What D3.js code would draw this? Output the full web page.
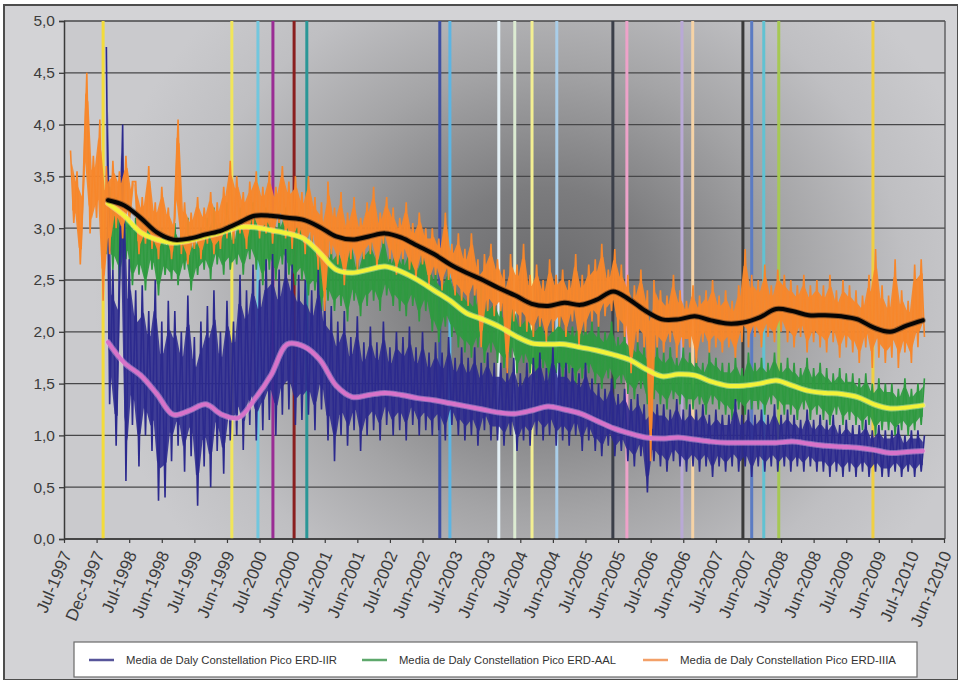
<!DOCTYPE html>
<html>
<head>
<meta charset="utf-8">
<script src="https://cdn.jsdelivr.net/npm/d3@7"></script>
<style>
  body { margin: 0; background: #ffffff; }
  svg { display: block; }
  text { font-family: "Liberation Sans", Arial, Helvetica, sans-serif; }
</style>
</head>
<body>
<svg id="chart" width="958" height="680"></svg>
<script>
// ---- Category labels along the time axis -------------------------------
const xLabels = ["Jul-1997","Dec-1997","Jul-1998","Jun-1998","Jul-1999","Jun-1999",
  "Jul-2000","Jun-2000","Jul-2001","Jun-2001","Jul-2002","Jun-2002","Jul-2003",
  "Jun-2003","Jul-2004","Jun-2004","Jul-2005","Jun-2005","Jul-2006","Jun-2006",
  "Jul-2007","Jun-2007","Jul-2008","Jun-2008","Jul-2009","Jun-2009","Jul-12010","Jun-12010"];

const yTicks = [0, 0.5, 1, 1.5, 2, 2.5, 3, 3.5, 4, 4.5, 5];

// ---- Daily values (time measured in label intervals) ---------------------
const dailyStep = 0.1;
const orangeStart = 0.2;
const stationStart = 1.3;

// Media de Daly Constellation Pico ERD-IIIA
const orangeDaily = [
  3.75,3.05,3.55,2.65,3.45,4.50,2.95,3.70,3.10,4.05,
  2.30,3.60,2.75,3.65,3.00,3.55,2.90,3.70,3.05,3.45,
  3.45,2.75,3.30,2.85,3.60,2.80,3.25,2.70,3.40,2.85,
  3.20,2.70,3.10,4.05,2.75,3.25,2.65,3.15,2.80,3.30,
  2.70,3.20,2.85,3.35,2.75,3.25,2.80,3.40,2.90,3.65,
  2.85,3.50,2.95,3.35,2.80,3.45,3.00,3.55,2.90,3.40,
  2.95,3.55,2.85,3.40,3.05,3.60,2.90,3.45,2.80,3.50,
  2.90,3.35,2.75,3.50,2.85,3.30,2.60,3.25,2.20,3.45,
  2.75,3.20,2.65,3.35,2.45,3.15,2.70,3.30,2.60,3.10,
  2.70,3.25,2.75,3.40,2.60,3.15,2.85,3.30,2.70,3.20,
  2.55,3.10,2.70,3.25,2.60,3.05,2.50,3.15,2.65,3.00,
  2.45,3.00,2.55,2.90,2.40,3.15,2.50,2.85,2.35,2.95,
  2.30,2.80,2.25,2.95,2.35,2.70,1.85,2.75,2.20,2.85,
  2.15,2.70,2.20,2.60,1.60,2.75,2.10,2.65,2.05,2.85,
  2.00,2.55,1.95,2.65,2.05,2.50,1.90,2.70,2.00,2.55,
  2.05,2.60,1.95,2.50,2.10,2.75,1.85,2.55,2.00,2.65,
  2.10,2.70,2.05,2.85,2.15,2.60,2.20,2.80,2.00,2.65,
  1.95,2.55,1.60,2.45,1.90,2.60,1.85,2.40,0.75,2.50,
  1.85,2.40,1.80,2.35,1.90,2.55,1.75,2.40,1.85,2.30,
  1.85,2.45,1.70,2.35,1.90,2.40,1.80,2.50,1.85,2.35,
  1.80,2.40,1.85,2.30,1.75,2.45,1.90,2.80,1.85,2.55,
  1.95,2.50,1.85,2.65,1.95,2.45,1.90,2.60,2.00,2.55,
  1.90,2.50,1.85,2.45,1.95,2.55,1.80,2.45,1.90,2.50,
  1.85,2.45,1.80,2.55,1.90,2.40,1.75,2.50,1.85,2.45,
  1.80,2.40,1.70,2.35,1.85,2.55,1.65,2.80,1.75,2.45,
  1.70,2.35,1.75,2.70,1.65,2.40,1.80,2.30,1.70,2.65,
  1.85,2.70,1.95
];

// Media de Daly Constellation Pico ERD-AAL
const greenDaily = [
  2.75,3.40,2.60,3.30,2.50,3.20,2.70,3.15,2.45,3.10,
  2.55,3.05,2.40,3.10,2.60,2.95,2.35,3.00,2.55,2.90,
  2.50,3.05,2.45,2.95,2.60,3.10,2.40,2.90,2.55,3.00,
  2.60,3.10,2.50,3.20,2.65,3.05,2.55,3.25,2.60,2.95,
  2.65,3.20,2.55,3.15,2.70,3.25,2.60,3.10,2.45,3.20,
  2.60,3.15,2.50,3.10,2.65,3.20,2.55,3.05,2.45,3.15,
  2.50,3.00,2.35,2.95,2.40,2.85,2.20,2.90,2.30,2.80,
  2.20,2.85,2.25,2.75,2.10,2.90,2.30,2.70,2.15,2.85,
  2.25,2.90,2.30,2.80,2.20,2.95,2.35,2.75,2.25,2.85,
  2.20,2.75,2.15,2.85,2.25,2.70,2.10,2.80,2.20,2.70,
  2.00,2.60,1.90,2.55,2.05,2.65,1.95,2.50,1.85,2.45,
  1.80,2.40,1.75,2.35,1.85,2.45,1.70,2.30,1.80,2.35,
  1.70,2.25,1.65,2.20,1.75,2.30,1.60,2.15,1.70,2.20,
  1.60,2.10,1.55,2.15,1.65,2.05,1.50,2.10,1.60,2.15,
  1.55,2.10,1.60,2.05,1.50,2.15,1.55,2.05,1.60,2.10,
  1.50,2.05,1.45,2.00,1.55,2.10,1.45,1.95,1.50,2.00,
  1.40,1.95,1.35,1.90,1.45,1.85,1.30,1.80,1.35,1.85,
  1.30,1.80,1.25,1.85,1.35,1.75,1.30,1.85,1.25,1.80,
  1.25,1.75,1.30,1.70,1.20,1.80,1.30,1.75,1.25,1.70,
  1.20,1.70,1.15,1.75,1.25,1.65,1.20,1.80,1.25,1.70,
  1.25,1.75,1.20,1.70,1.30,1.80,1.25,1.70,1.20,1.75,
  1.20,1.70,1.15,1.65,1.25,1.75,1.15,1.65,1.20,1.70,
  1.15,1.65,1.10,1.60,1.20,1.65,1.10,1.60,1.15,1.60,
  1.10,1.55,1.05,1.60,1.10,1.50,1.00,1.55,1.05,1.50,
  1.05,1.50,1.00,1.45,1.05,1.55,1.00,1.45,1.05,1.50,
  1.10,1.55
];

// Media de Daly Constellation Pico ERD-IIR
const blueDaily = [
  4.75,1.30,2.60,0.90,2.50,4.00,0.56,2.70,1.10,2.40,
  0.70,2.45,1.00,2.20,0.85,2.50,0.37,2.10,0.40,2.30,
  0.75,2.20,0.90,2.00,0.65,2.35,0.80,1.95,0.32,2.10,
  0.70,2.25,0.50,2.40,0.85,2.00,0.63,2.30,0.95,2.10,
  1.00,2.55,0.86,2.40,1.10,2.65,0.95,2.50,1.05,2.70,
  1.15,2.75,1.00,2.60,1.20,2.80,1.25,2.65,1.10,2.55,
  1.15,2.50,1.20,2.40,1.05,2.60,1.25,2.30,0.95,2.25,
  0.75,2.10,1.00,2.20,0.90,1.95,1.05,2.15,0.85,1.90,
  1.00,2.05,1.05,1.90,0.95,2.10,1.10,1.85,1.00,2.00,
  1.05,1.95,0.95,2.05,1.10,1.85,1.00,2.00,1.05,1.80,
  1.00,1.90,1.05,1.80,0.95,1.95,1.10,1.75,1.00,1.85,
  0.95,1.75,1.00,1.85,0.90,1.70,1.05,1.80,0.95,1.70,
  0.95,1.70,0.90,1.65,1.00,1.75,0.85,1.60,0.95,1.70,
  0.90,1.75,1.00,1.80,0.95,1.65,1.00,1.85,0.90,1.70,
  0.95,1.70,0.90,1.65,1.00,1.60,0.85,1.70,0.95,1.55,
  0.85,1.50,0.80,1.45,0.90,1.55,0.80,1.40,0.85,1.45,
  0.75,1.35,0.70,1.40,0.80,1.30,0.45,1.35,0.75,1.30,
  0.70,1.30,0.65,1.25,0.75,1.35,0.70,1.25,0.65,1.30,
  0.70,1.25,0.65,1.30,0.70,1.20,0.60,1.25,0.70,1.20,
  0.65,1.20,0.70,1.35,0.65,1.20,0.70,1.25,0.60,1.20,
  0.70,1.25,0.65,1.20,0.70,1.30,0.65,1.20,0.70,1.25,
  0.65,1.20,0.70,1.15,0.65,1.25,0.70,1.15,0.65,1.20,
  0.65,1.15,0.60,1.20,0.65,1.10,0.60,1.15,0.65,1.10,
  0.60,1.10,0.65,1.15,0.60,1.05,0.65,1.10,0.60,1.05,
  0.60,1.05,0.65,1.10,0.60,1.00,0.65,1.05,0.60,1.05,
  0.65,1.00
];

// ---- Running averages ------------------------------------------------------
const avgStart = 1.35;
const avgStep = 0.5;

const orangeAvg = [3.27,3.22,3.10,2.96,2.89,2.90,2.94,2.98,3.05,3.12,
  3.12,3.10,3.08,3.01,2.92,2.89,2.92,2.95,2.91,2.83,
  2.75,2.65,2.57,2.50,2.42,2.35,2.27,2.25,2.28,2.26,
  2.31,2.39,2.31,2.20,2.12,2.12,2.15,2.11,2.08,2.09,
  2.14,2.22,2.20,2.16,2.16,2.15,2.12,2.04,2.00,2.06,2.11];

const greenAvg = [3.24,3.12,2.96,2.89,2.86,2.88,2.92,2.96,3.01,3.01,
  2.98,2.95,2.90,2.76,2.60,2.57,2.60,2.63,2.58,2.50,
  2.40,2.30,2.18,2.12,2.05,1.96,1.89,1.88,1.88,1.85,
  1.82,1.78,1.73,1.64,1.57,1.59,1.58,1.52,1.48,1.48,
  1.50,1.53,1.48,1.43,1.41,1.40,1.37,1.30,1.26,1.27,1.29];

const blueAvg = [1.90,1.70,1.58,1.40,1.20,1.24,1.30,1.20,1.17,1.35,
  1.58,1.88,1.86,1.73,1.48,1.37,1.39,1.41,1.39,1.36,
  1.34,1.31,1.28,1.25,1.22,1.21,1.24,1.28,1.25,1.21,
  1.14,1.07,1.02,0.98,0.97,0.98,0.96,0.94,0.93,0.93,
  0.93,0.93,0.94,0.92,0.90,0.89,0.88,0.86,0.83,0.84,0.85];

// ---- Event markers (time in label intervals) -------------------------------
const eventTimes  = [1.20, 5.15, 5.95, 6.41, 7.06, 7.45, 11.53, 11.84, 13.34, 13.83,
  14.36, 15.12, 16.84, 17.27, 18.96, 19.29, 20.83, 21.10, 21.47, 21.93, 24.82];
const eventColors = ["#f3dc3a","#f1e65a","#72c7de","#9a2c94","#8a1f1f","#2a9797",
  "#3f4fa3","#5cb5e3","#e4f0f6","#dcebd2","#f3ef92","#a9cde8","#3b3f49","#eea2c9",
  "#b9a9d6","#f6d3a6","#3a3a3a","#5b7bc3","#61c2d2","#a6c853","#f0d042"];

// ---- Legend ----------------------------------------------------------------
const legendNames = ["Media de Daly Constellation Pico ERD-IIR",
  "Media de Daly Constellation Pico ERD-AAL",
  "Media de Daly Constellation Pico ERD-IIIA"];
const legendColors = ["#57559a", "#5ea86c", "#f3a068"];

// ---------------------------------------------------------------------------
const svg = d3.select("#chart");
const W = 958, H = 680;
const plot = { left: 64, right: 945, top: 21, bottom: 539 };

const x = d3.scaleLinear().domain([0, xLabels.length - 1]).range([64, 944]);
const y = d3.scaleLinear().domain([0, 5]).range([plot.bottom, plot.top]);

const defs = svg.append("defs");
const rg = defs.append("radialGradient")
  .attr("id", "plotShade").attr("gradientUnits", "userSpaceOnUse")
  .attr("cx", 545).attr("cy", 290).attr("r", 430)
  .attr("gradientTransform", "translate(545,290) scale(1.05,0.95) translate(-545,-290)");
[[0, "#69696b"], [0.25, "#7c7c7e"], [0.55, "#a4a4a6"], [0.8, "#bfbfc2"], [1, "#cacacd"]]
  .forEach(([o, c]) => rg.append("stop").attr("offset", o).attr("stop-color", c));

// Figure frame
svg.append("rect").attr("x", 0).attr("y", 0).attr("width", W).attr("height", H).attr("fill", "#ffffff");
svg.append("rect").attr("x", 4).attr("y", 5).attr("width", W - 4).attr("height", H - 5)
  .attr("fill", "#d3d3d6").attr("stroke", "#4d4d4d").attr("stroke-width", 2);

// Plot area
svg.append("rect")
  .attr("x", plot.left).attr("y", plot.top)
  .attr("width", plot.right - plot.left).attr("height", plot.bottom - plot.top)
  .attr("fill", "url(#plotShade)");

// Horizontal grid
svg.append("g").selectAll("line").data(yTicks).join("line")
  .attr("x1", plot.left).attr("x2", plot.right)
  .attr("y1", d => y(d)).attr("y2", d => y(d))
  .attr("stroke", "#474749").attr("stroke-width", 1.3);
svg.append("line").attr("x1", plot.right).attr("x2", plot.right)
  .attr("y1", plot.top).attr("y2", plot.bottom).attr("stroke", "#505052").attr("stroke-width", 1.3);

// Event markers
svg.append("g").selectAll("line").data(eventTimes).join("line")
  .attr("x1", d => x(d)).attr("x2", d => x(d))
  .attr("y1", plot.top).attr("y2", plot.bottom)
  .attr("stroke", (d, i) => eventColors[i]).attr("stroke-width", 3);

// Daily series: a dense core band between neighbouring readings plus the raw trace
const dailyLine = start => d3.line()
  .x((d, i) => x(start + i * dailyStep))
  .y(d => y(d));

const coreBand = (values, start) => {
  const pts = values.slice(0, -1).map((v, i) => {
    const lo = Math.min(v, values[i + 1]), hi = Math.max(v, values[i + 1]);
    const span = hi - lo;
    return { t: start + (i + 0.5) * dailyStep, lo: lo + span * 0.18, hi: hi - span * 0.18 };
  });
  return d3.area().x(p => x(p.t)).y0(p => y(p.lo)).y1(p => y(p.hi))(pts);
};

const dailySeries = [
  { data: greenDaily,  start: stationStart, color: "#2f9a40", op: 0.92 },
  { data: blueDaily,   start: stationStart, color: "#2c2a8e", op: 0.88 },
  { data: orangeDaily, start: orangeStart,  color: "#f7872b", op: 0.95 }
];
const dailyG = svg.append("g");
dailySeries.forEach(s => {
  dailyG.append("path").attr("d", coreBand(s.data, s.start))
    .attr("fill", s.color).attr("fill-opacity", s.op);
  dailyG.append("path").datum(s.data).attr("d", dailyLine(s.start))
    .attr("fill", "none").attr("stroke", s.color).attr("stroke-width", 1.6);
});

// Running averages
const avgLine = d3.line()
  .x((d, i) => x(avgStart + i * avgStep))
  .y(d => y(d))
  .curve(d3.curveCatmullRom.alpha(0.5));

const avgG = svg.append("g").attr("fill", "none")
  .attr("stroke-linejoin", "round").attr("stroke-linecap", "round");
const avgs = [
  { data: blueAvg,   halo: "#f0b4e6", color: "#d873c9" },
  { data: greenAvg,  halo: "#fbfbb0", color: "#f3f23a" },
  { data: orangeAvg, halo: "#3a2a20", color: "#050505" }
];
avgs.forEach(a => {
  avgG.append("path").datum(a.data).attr("d", avgLine)
    .attr("stroke", a.halo).attr("stroke-width", 6).attr("stroke-opacity", 0.45);
  avgG.append("path").datum(a.data).attr("d", avgLine)
    .attr("stroke", a.color).attr("stroke-width", 4);
});

// Axes
const yAxis = d3.axisLeft(y).tickValues(yTicks).tickSize(5).tickPadding(4)
  .tickFormat(d => d.toFixed(1).replace(".", ","));
const gy = svg.append("g").attr("transform", `translate(${plot.left},0)`).call(yAxis);
gy.select(".domain").attr("stroke", "#3a3a3a").attr("stroke-width", 1.5);
gy.selectAll(".tick line").attr("stroke", "#3a3a3a").attr("stroke-width", 1.3);
gy.selectAll(".tick text").attr("fill", "#3c3c3c").attr("font-size", 15.5)
  .attr("font-family", "'Liberation Sans', Arial, sans-serif");

const xAxis = d3.axisBottom(x).tickValues(d3.range(xLabels.length)).tickSize(4)
  .tickFormat(i => xLabels[i]);
const gx = svg.append("g").attr("transform", `translate(0,${plot.bottom})`).call(xAxis);
gx.select(".domain").attr("stroke", "#3a3a3a").attr("stroke-width", 1.5)
  .attr("d", `M${plot.left},0H${plot.right}`);
gx.selectAll(".tick line").attr("stroke", "#3a3a3a").attr("stroke-width", 1.2);
gx.selectAll(".tick text")
  .attr("fill", "#3c3c3c").attr("font-size", 17)
  .attr("font-family", "'Liberation Sans', Arial, sans-serif")
  .attr("text-anchor", "end")
  .attr("x", 0).attr("y", 0).attr("dy", "0.35em")
  .attr("transform", "translate(2,13) rotate(-67)");

// Legend
const lg = svg.append("g");
lg.append("rect").attr("x", 74).attr("y", 642).attr("width", 843).attr("height", 35)
  .attr("fill", "#ffffff").attr("stroke", "#6a6a6a").attr("stroke-width", 1.2);
const legendX = [89, 362, 643];
const legendW = [211, 217, 216];
legendNames.forEach((name, i) => {
  lg.append("line").attr("x1", legendX[i]).attr("x2", legendX[i] + 25)
    .attr("y1", 660).attr("y2", 660)
    .attr("stroke", legendColors[i]).attr("stroke-width", 2.5);
  lg.append("text").attr("x", legendX[i] + 37).attr("y", 660).attr("dy", "0.35em")
    .attr("font-size", 11).attr("fill", "#333")
    .attr("textLength", legendW[i]).attr("lengthAdjust", "spacingAndGlyphs")
    .text(name);
});
</script>
</body>
</html>
